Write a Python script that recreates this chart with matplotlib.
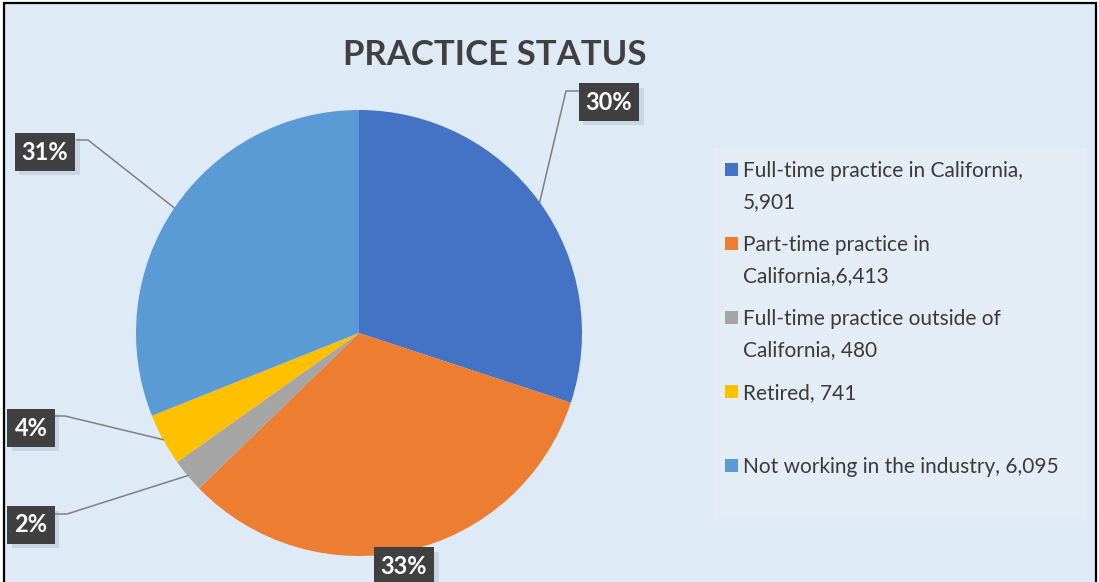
import matplotlib.pyplot as plt
import matplotlib.patheffects as pe
from matplotlib.patches import Rectangle
import numpy as np

plt.rcParams['font.family'] = ['Lato', 'DejaVu Sans']

categories = ["Full-time practice in California,\n5,901",
              "Part-time practice in\nCalifornia,6,413",
              "Full-time practice outside of\nCalifornia, 480",
              "Retired, 741\n ",
              "Not working in the industry, 6,095"]
values = [5901, 6413, 480, 741, 6095]
colors = ["#4472C4", "#ED7D31", "#A5A5A5", "#FFC000", "#5B9BD5"]

W, H = 1099, 582
bg = "#DEEAF6"

fig = plt.figure(figsize=(W / 100, H / 100), dpi=100)
fig.patch.set_facecolor("white")
ax = fig.add_axes([0, 0, 1, 1])

# background panel with black border (bottom edge is cropped in the original)
ax.add_patch(Rectangle((4, -10), 1092, H - 3 + 10, facecolor=bg,
                       edgecolor="black", linewidth=1.6, zorder=0))

wedges, _ = ax.pie(values, colors=colors, startangle=90, counterclock=False,
                   center=(359, H - 333), radius=223,
                   wedgeprops=dict(linewidth=0))
ax.set_xlim(0, W)
ax.set_ylim(0, H)
ax.set_aspect("equal")
ax.axis("off")

ax.text(495, H - 55, "PRACTICE STATUS", ha="center", va="center",
        fontsize=25, fontweight="bold", color="#404040")

# data labels: box centre and leader elbow (pixel coords, y from top)
total = sum(values)
label_pos = [(609, 102), (404, 566), (31, 525), (31, 428), (45, 152)]
elbows = [(566, 91), None, (67, 514), (65, 416), (88, 140)]
attach = [(578, 91), None, (55, 514), (55, 416), (77, 140)]

for w, v, (bx, by), el, at in zip(wedges, values, label_pos, elbows, attach):
    pct = f"{round(v / total * 100)}%"
    t = ax.text(bx, H - by, pct, ha="center", va="center", color="white",
                fontsize=17, fontweight="bold", zorder=5,
                bbox=dict(boxstyle="square,pad=0.3", facecolor="#404040",
                          edgecolor="none"))
    t.get_bbox_patch().set_path_effects([
        pe.SimplePatchShadow(offset=(3, -3), shadow_rgbFace="#8a9aaa", alpha=0.25),
        pe.Normal()])
    if el is not None:
        mid = np.deg2rad((w.theta1 + w.theta2) / 2)
        cx, cy = w.center
        ex = cx + w.r * np.cos(mid)
        ey = cy + w.r * np.sin(mid)
        ax.plot([ex, el[0], at[0]], [ey, H - el[1], H - at[1]],
                color="#7F7F7F", linewidth=1.1, zorder=4)

# legend panel
ax.add_patch(Rectangle((713, H - 518), 374, 370, facecolor="#E4ECF5",
                       edgecolor="none", zorder=1))
entry_top = [163, 237, 311, 385, 459]
for lab, col, top in zip(categories, colors, entry_top):
    ax.add_patch(Rectangle((725, H - top - 13), 13, 13, facecolor=col,
                           edgecolor="none", zorder=2))
    ax.text(743, H - top + 2, lab, ha="left", va="top", fontsize=15,
            color="#3a3a3a", linespacing=1.72, zorder=2)

fig.savefig("out.png", dpi=100, facecolor=fig.get_facecolor())
